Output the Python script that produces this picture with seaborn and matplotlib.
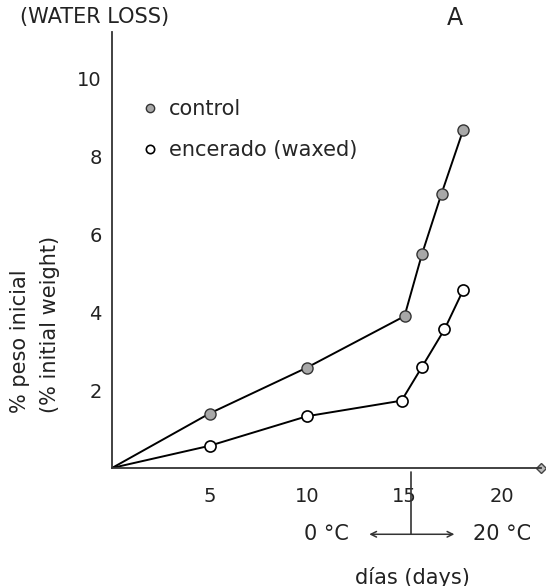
import seaborn as sns
import matplotlib.pyplot as plt
import pandas as pd
from matplotlib.lines import Line2D

# ---- data ----
control_days = [0, 5, 10, 15, 15.9, 16.9, 18]
control_loss = [0, 1.4, 2.58, 3.9, 5.5, 7.05, 8.67]

waxed_days = [0, 5, 10, 14.85, 15.9, 17.05, 18]
waxed_loss = [0, 0.57, 1.33, 1.73, 2.6, 3.56, 4.56]

x_ticks = [5, 10, 15, 20]
y_ticks = [2, 4, 6, 8, 10]

control = pd.DataFrame({'dias': control_days, 'loss': control_loss})
waxed = pd.DataFrame({'dias': waxed_days, 'loss': waxed_loss})

sns.set_style('white')
plt.rcParams['font.family'] = ['DejaVu Sans']

fig = plt.figure(figsize=(5.46, 5.86), dpi=100)
ax = fig.add_axes([112 / 546, 118 / 586, 429 / 546, 436 / 586])

# first point (origin) has no marker
sns.lineplot(x='dias', y='loss', data=control, ax=ax, color='black', lw=1.4,
             marker='o', markersize=8, markerfacecolor='#a8a8a8',
             markeredgecolor='#333333', markeredgewidth=1.0,
             markevery=list(range(1, len(control_days))))
sns.lineplot(x='dias', y='loss', data=waxed, ax=ax, color='black', lw=1.4,
             marker='o', markersize=8, markerfacecolor='white',
             markeredgecolor='black', markeredgewidth=1.2,
             markevery=list(range(1, len(waxed_days))))

ax.set_xlim(0, 22)
ax.set_ylim(0, 11.2)
ax.set_xticks(x_ticks)
ax.set_yticks(y_ticks)
ax.tick_params(axis='both', direction='inout', length=3, width=1,
               labelsize=14, colors='#222222')
ax.tick_params(axis='x', pad=12)
ax.tick_params(axis='y', pad=6)
ax.set_xlabel('')
ax.set_ylabel('')
sns.despine(ax=ax)
for side in ['left', 'bottom']:
    ax.spines[side].set_color('#333333')
    ax.spines[side].set_linewidth(1.3)

# small diamond at the end of the x axis
ax.plot([22], [0], marker='D', markersize=5, markerfacecolor='#bbbbbb',
        markeredgecolor='#444444', clip_on=False)

# legend
handles = [
    Line2D([], [], ls='none', marker='o', markersize=6,
           markerfacecolor='#a8a8a8', markeredgecolor='#333333'),
    Line2D([], [], ls='none', marker='o', markersize=6,
           markerfacecolor='white', markeredgecolor='black', markeredgewidth=1.2),
]
ax.legend(handles, ['control', 'encerado (waxed)'], frameon=False,
          loc='upper left', bbox_to_anchor=(0.05, 0.865), fontsize=15,
          handlelength=0.8, handletextpad=0.5, labelspacing=1.0,
          borderaxespad=0)

# temperature change marker below the axis
trans = ax.get_xaxis_transform()
ax.plot([15.35, 15.35], [-0.01, -0.152], color='#333333', lw=1.2,
        transform=trans, clip_on=False)
ax.annotate('', xy=(13.05, -0.152), xytext=(17.7, -0.152), xycoords=trans,
            textcoords=trans,
            arrowprops=dict(arrowstyle='<->', color='#333333', lw=1.1))
ax.text(11.0, -0.152, '0 °C', transform=trans, ha='center', va='center',
        fontsize=15, color='#222222')
ax.text(20.0, -0.152, '20 °C', transform=trans, ha='center', va='center',
        fontsize=15, color='#222222')
ax.text(15.4, -0.25, 'días (days)', transform=trans, ha='center', va='center',
        fontsize=15, color='#222222')

# titles and y label
fig.text(20 / 546, 1 - 17 / 586, '(WATER LOSS)', ha='left', va='center',
         fontsize=15, color='#222222')
fig.text(455 / 546, 1 - 18 / 586, 'A', ha='center', va='center',
         fontsize=17, color='#222222')
fig.text(20 / 546, 1 - 413 / 586, '% peso inicial', rotation=90,
         ha='center', va='bottom', fontsize=15, color='#222222')
fig.text(50 / 546, 1 - 413 / 586, '(% initial weight)', rotation=90,
         ha='center', va='bottom', fontsize=15, color='#222222')

plt.savefig('out.png', dpi=100)
